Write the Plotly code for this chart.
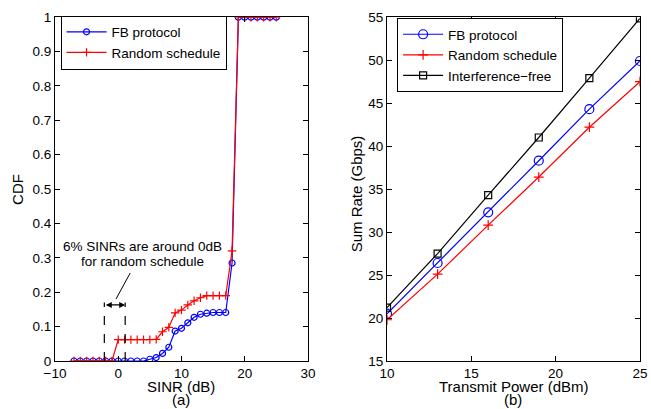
import plotly.graph_objects as go

# CDF of SINR (left panel)
sinr_db = list(range(-7, 26))
cdf_fb = [0, 0, 0, 0, 0, 0, 0,
          0, 0, 0, 0, 0, 0.005, 0.01, 0.022, 0.04, 0.087, 0.095, 0.111, 0.127,
          0.136, 0.139, 0.141, 0.141, 0.141, 0.285,
          1, 1, 1, 1, 1, 1, 1]
cdf_random = [0, 0, 0, 0, 0, 0, 0,
              0.062, 0.062, 0.062, 0.062, 0.062, 0.062, 0.063, 0.085, 0.098, 0.14, 0.148,
              0.163, 0.175, 0.184, 0.19, 0.19, 0.19, 0.19, 0.32,
              1, 1, 1, 1, 1, 1, 1]

# Sum rate vs transmit power (right panel)
power_dbm = [10, 13, 16, 19, 22, 25]
rate_fb = [20.5, 26.4, 32.3, 38.3, 44.3, 49.9]
rate_random = [19.8, 25.1, 30.8, 36.4, 42.2, 47.5]
rate_free = [21.2, 27.5, 34.3, 41.0, 47.9, 54.85]

FONT = "Liberation Sans, Arial, Helvetica, sans-serif"

fig = go.Figure()

fig.add_trace(go.Scatter(
    x=sinr_db, y=cdf_fb, name="FB protocol", mode="lines+markers",
    line=dict(color="blue", width=1.2),
    marker=dict(symbol="circle-open", size=6, color="blue", line=dict(width=1.2)),
    xaxis="x", yaxis="y", legend="legend"))
fig.add_trace(go.Scatter(
    x=sinr_db, y=cdf_random, name="Random schedule", mode="lines+markers",
    line=dict(color="red", width=1.2),
    marker=dict(symbol="cross-thin-open", size=6, color="red", line=dict(width=1.2, color="red")),
    xaxis="x", yaxis="y", legend="legend"))

fig.add_trace(go.Scatter(
    x=power_dbm, y=rate_fb, name="FB protocol", mode="lines+markers",
    line=dict(color="blue", width=1.2),
    marker=dict(symbol="circle-open", size=9, color="blue", line=dict(width=1.2)),
    xaxis="x2", yaxis="y2", legend="legend2"))
fig.add_trace(go.Scatter(
    x=power_dbm, y=rate_random, name="Random schedule", mode="lines+markers",
    line=dict(color="red", width=1.2),
    marker=dict(symbol="cross-thin-open", size=7, color="red", line=dict(width=1.2, color="red")),
    xaxis="x2", yaxis="y2", legend="legend2"))
fig.add_trace(go.Scatter(
    x=power_dbm, y=rate_free, name="Interference\u2212free", mode="lines+markers",
    line=dict(color="black", width=1.2),
    marker=dict(symbol="square-open", size=7, color="black", line=dict(width=1.2)),
    xaxis="x2", yaxis="y2", legend="legend2"))

axis_common = dict(showline=True, linecolor="black", linewidth=1, mirror="ticks",
                   ticks="inside", ticklen=5, tickcolor="black", showgrid=False,
                   zeroline=False, automargin=False,
                   tickfont=dict(size=13.5, color="black"))

fig.update_layout(
    width=651, height=409,
    margin=dict(l=0, r=0, t=0, b=0),
    paper_bgcolor="white", plot_bgcolor="white",
    font=dict(family=FONT, size=14, color="black"),
    xaxis=dict(domain=[0.0845, 0.473], range=[-10, 30], dtick=10, anchor="y", **axis_common),
    yaxis=dict(domain=[0.1174, 0.958], range=[0, 1], dtick=0.1, anchor="x", **axis_common),
    xaxis2=dict(domain=[0.5945, 0.983], range=[10, 25], dtick=5, anchor="y2", **axis_common),
    yaxis2=dict(domain=[0.1174, 0.958], range=[15, 55], dtick=5, anchor="x2", **axis_common),
    legend=dict(x=0.093, y=0.962, xanchor="left", yanchor="top",
                bordercolor="black", borderwidth=1, bgcolor="white",
                font=dict(size=13.5), tracegroupgap=0, itemwidth=40),
    legend2=dict(x=0.61, y=0.956, xanchor="left", yanchor="top",
                 bordercolor="black", borderwidth=1, bgcolor="white",
                 font=dict(size=13.5), tracegroupgap=0, itemwidth=40),
)

# dashed markers around 0 dB
for xv in [-2.2, 1.1]:
    fig.add_shape(type="line", x0=xv, x1=xv, y0=0, y1=0.17, xref="x", yref="y",
                  line=dict(color="black", width=1.2, dash="dash"))
fig.add_shape(type="line", x0=1.9, y0=0.256, x1=-0.36, y1=0.18, xref="x", yref="y",
              line=dict(color="black", width=1))

fig.add_annotation(x=1.1, y=0.163, ax=-2.2, ay=0.163, xref="x", yref="y",
                   axref="x", ayref="y", text="", showarrow=True,
                   arrowhead=2, arrowside="end+start", arrowsize=1, arrowwidth=1.2,
                   arrowcolor="black")
for txt, ty in [("6% SINRs are around 0dB", 0.332), ("for random schedule", 0.289)]:
    fig.add_annotation(x=3.9, y=ty, xref="x", yref="y", showarrow=False,
                       xanchor="center", yanchor="middle",
                       text=txt, font=dict(size=13.5))

# axis titles and panel labels
labels = [
    (0.2785, 0.055, "SINR (dB)", 0),
    (0.7885, 0.055, "Transmit Power (dBm)", 0),
    (0.2785, 0.0235, "(a)", 0),
    (0.7885, 0.0235, "(b)", 0),
    (0.0276, 0.538, "CDF", -90),
    (0.547, 0.525, "Sum Rate (Gbps)", -90),
]
for lx, ly, txt, ang in labels:
    fig.add_annotation(x=lx, y=ly, xref="paper", yref="paper", showarrow=False,
                       xanchor="center", yanchor="middle",
                       text=txt, textangle=ang, font=dict(size=15))

fig.write_html("out.html", config={"displayModeBar": False},
               post_script="document.body.style.margin='0';")
